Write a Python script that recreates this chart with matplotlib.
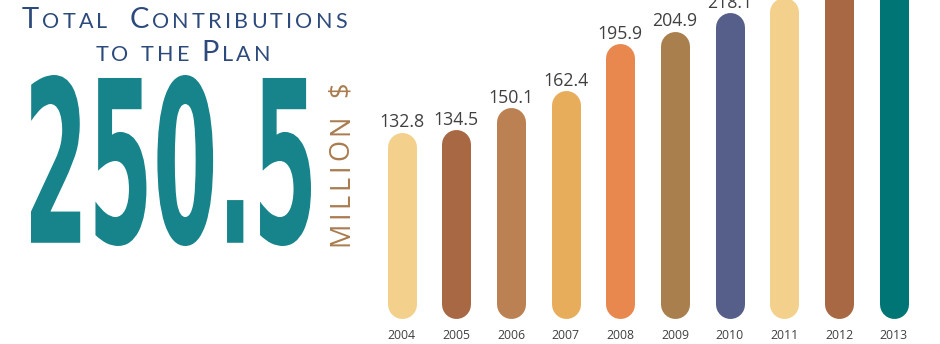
import matplotlib
matplotlib.use('Agg')
import matplotlib.pyplot as plt
from matplotlib.patheffects import AbstractPathEffect
from matplotlib.transforms import Affine2D, Bbox
from matplotlib.textpath import TextPath
from matplotlib.text import Text
from matplotlib.font_manager import FontProperties

# contributions per year, million $
years = ['2004', '2005', '2006', '2007', '2008', '2009', '2010', '2011', '2012', '2013']
contrib = [132.8, 134.5, 150.1, 162.4, 195.9, 204.9, 218.1, 229.0, 240.0, 250.5]
bar_colors = ['#F3D08B', '#A86844', '#BC8152', '#E8AD5B', '#E8884F',
              '#A97F4E', '#555F89', '#F3D08B', '#A86844', '#007575']
total = contrib[-1]

W, H, DPI = 940, 344, 100
navy = '#2D4A7C'
teal = '#16848A'
gold = '#A97C4F'
grey = '#404040'


class Squeeze(AbstractPathEffect):
    """scale glyph outlines about the text anchor"""
    def __init__(self, sx=1.0, sy=1.0):
        super().__init__()
        self.sx, self.sy = sx, sy

    def draw_path(self, renderer, gc, tpath, affine, rgbFace=None):
        renderer.draw_path(gc, tpath, Affine2D().scale(self.sx, self.sy) + affine, rgbFace)


class CondensedText(Text):
    """left-anchored text drawn narrower by a factor sx"""
    def __init__(self, *args, sx=1.0, **kwargs):
        super().__init__(*args, **kwargs)
        self._sx = sx
        self.set_path_effects([Squeeze(sx)])

    def get_window_extent(self, renderer=None, dpi=None):
        bb = super().get_window_extent(renderer, dpi)
        return Bbox([[bb.x0, bb.y0], [bb.x0 + bb.width * self._sx, bb.y1]])


fig = plt.figure(figsize=(W / DPI, H / DPI), dpi=DPI)
rend = fig.canvas.get_renderer()

# ---- bars ----
ax = fig.add_axes([0, 0, 1, 1])
x0_px, step_px, base_px, px_per_unit = 401.7, 54.67, 26.0, 1.4
ax.set_xlim(-x0_px / step_px, (W - x0_px) / step_px)
ax.set_ylim(-base_px / px_per_unit, (H - base_px) / px_per_unit)
ax.axis('off')

bar_w_px = 29.0
r = bar_w_px / 2 / px_per_unit
for i, (v, c) in enumerate(zip(contrib, bar_colors)):
    ax.plot([i, i], [r, v - r], color=c, lw=bar_w_px * 72 / DPI,
            solid_capstyle='round')
    ax.annotate(f'{v:.1f}', (i, v), xytext=(0, 3.6), textcoords='offset points',
                ha='center', va='baseline', fontsize=12.8, color=grey,
                family='Open Sans')
    ax.text(i, -15.2, years[i], ha='center', va='baseline', fontsize=8.8,
            color=grey, family='Open Sans')


# ---- tracked text, one Text per character ----
def tracked(parts, color, family, gap, cx=None, start=None, base=0.0, vertical=False):
    items = []
    for s, fs in parts:
        for ch in s:
            if ch == ' ':
                items.append((None, fs * 0.28 * DPI / 72))
                continue
            t = fig.text(0, 0, ch, fontsize=fs, color=color, family=family,
                         va='baseline', ha='left')
            items.append((t, t.get_window_extent(rend).width))
    total_w = sum(w for _, w in items) + gap * (len(items) - 1)
    pos = cx - total_w / 2 if cx is not None else start
    for t, w in items:
        if vertical:
            # reads bottom to top, baseline on the right
            if t is not None:
                t.set_position((base / W, (H - pos) / H))
                t.set_rotation(90)
                t.set_rotation_mode('anchor')
            pos -= w + gap
        else:
            if t is not None:
                t.set_position((pos / W, 1 - base / H))
            pos += w + gap
    return pos


big, small = 21.0, 15.5
tracked([('T', big), ('OTAL', small), ('  ', small), ('C', big), ('ONTRIBUTIONS', small)],
        navy, 'Lato', 3.2, cx=184.5, base=28.3)
tracked([('TO THE ', small), ('P', big), ('LAN', small)],
        navy, 'Lato', 3.2, cx=183, base=61.0)

# ---- big total, condensed ----
fp = FontProperties(family='DejaVu Sans', weight='bold')
ext = TextPath((0, 0), f'{total}', size=100, prop=fp).get_extents()
left, right, top, bottom = 31, 311, 75, 246
em_px = (bottom - top) / (ext.height / 100)
sx = (right - left) / (ext.width / 100 * em_px)
big_num = CondensedText((left - ext.x0 / 100 * em_px * sx) / W,
                        (H - bottom - ext.y0 / 100 * em_px) / H,
                        f'{total}', fontproperties=fp, fontsize=em_px * 72 / DPI,
                        color=teal, ha='left', va='baseline', sx=sx,
                        transform=fig.transFigure)
fig.add_artist(big_num)

# unit, rotated
tracked([('MILLION', 19.5)], gold, 'Open Sans', 3.7, start=246.5, base=348, vertical=True)
tracked([('$', 19.5)], gold, 'Open Sans', 0, start=97, base=348, vertical=True)

fig.savefig('out.png', dpi=DPI)
